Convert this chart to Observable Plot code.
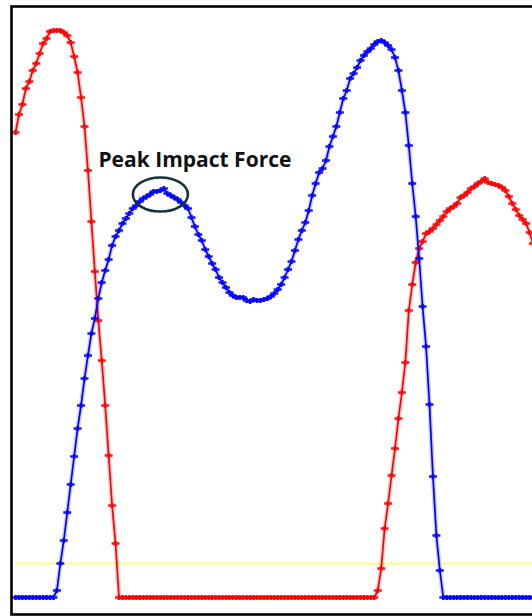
<!DOCTYPE html>
<html>
<head>
<meta charset="utf-8">
<script src="https://cdn.jsdelivr.net/npm/d3@7"></script>
<script src="https://cdn.jsdelivr.net/npm/@observablehq/plot@0.6"></script>
<style>
  html, body { margin: 0; padding: 0; background: #fff; }
  #chart svg { display: block; }
</style>
</head>
<body>
<div id="chart"></div>
<script>
// Sampling interval (ms) between successive force samples
const sampleMs = 5;

// Red force trace (arbitrary force units), one value per sample
const redForce = [
  465, 483, 493, 509, 516, 527, 534, 544, 554, 559,
  566, 567, 567, 567, 565, 562, 555, 541, 525, 500,
  471, 427, 376, 326, 277, 237, 192, 142, 92, 54,
  0, 0, 0, 0, 0, 0, 0, 0, 0, 0,
  0, 0, 0, 0, 0, 0, 0, 0, 0, 0,
  0, 0, 0, 0, 0, 0, 0, 0, 0, 0,
  0, 0, 0, 0, 0, 0, 0, 0, 0, 0,
  0, 0, 0, 0, 0, 0, 0, 0, 0, 0,
  0, 0, 0, 0, 0, 0, 0, 0, 0, 0,
  0, 0, 0, 0, 0, 0, 0, 0, 0, 0,
  0, 0, 0, 0, 0, 7, 29, 69, 94, 122,
  149, 179, 205, 235, 287, 313, 335, 349, 356, 364,
  366, 369, 373, 377, 381, 386, 389, 391, 394, 400,
  402, 405, 409, 411, 414, 416, 419, 415, 414, 413,
  412, 410, 407, 401, 394, 388, 382, 378, 374, 365,
  354
];

// Blue force trace (arbitrary force units), one value per sample
const blueForce = [
  0, 0, 0, 0, 0, 0, 0, 0, 0, 0,
  0, 0, 7, 34, 57, 85, 113, 141, 169, 192,
  219, 242, 264, 279, 299, 315, 327, 338, 352, 361,
  367, 374, 379, 384, 389, 392, 396, 399, 401, 403,
  406, 406, 407, 409, 404, 402, 400, 398, 395, 392,
  389, 380, 371, 363, 357, 348, 341, 334, 328, 320,
  315, 310, 305, 302, 300, 300, 300, 297, 296, 298,
  297, 297, 298, 299, 301, 304, 308, 313, 320, 328,
  336, 347, 358, 367, 375, 387, 402, 414, 425, 429,
  437, 451, 461, 471, 485, 499, 507, 519, 524, 530,
  537, 542, 546, 549, 553, 556, 557, 555, 552, 548,
  540, 527, 507, 485, 452, 414, 381, 339, 291, 251,
  193, 121, 62, 27, 0, 0, 0, 0, 0, 0,
  0, 0, 0, 0, 0, 0, 0, 0, 0, 0,
  0, 0, 0, 0, 0, 0, 0, 0, 0, 0,
  0
];

// Threshold level (yellow line)
const thresholdLevel = [34];

// Annotation
const annotationText = ["Peak Impact Force"];
const annotationAt = [{t: 52 * sampleMs, f: 437}];
const peakAt = [{t: 42 * sampleMs, f: 403}];

const red = redForce.map((f, i) => ({t: i * sampleMs, f}));
const blue = blueForce.map((f, i) => ({t: i * sampleMs, f}));

// "+"-like marker: wide horizontal dash with a short vertical tick
const plusMark = {
  draw(ctx) {
    ctx.moveTo(-4, 0); ctx.lineTo(4, 0);
    ctx.moveTo(0, -2.5); ctx.lineTo(0, 2.5);
  }
};
// Ellipse marker for the annotation ring
const ringMark = {
  draw(ctx) {
    const rx = 27.5, ry = 17, k = 0.5523;
    ctx.moveTo(rx, 0);
    ctx.bezierCurveTo(rx, ry * k, rx * k, ry, 0, ry);
    ctx.bezierCurveTo(-rx * k, ry, -rx, ry * k, -rx, 0);
    ctx.bezierCurveTo(-rx, -ry * k, -rx * k, -ry, 0, -ry);
    ctx.bezierCurveTo(rx * k, -ry, rx, -ry * k, rx, 0);
    ctx.closePath();
  }
};

const tMax = (redForce.length - 1) * sampleMs;

const chart = Plot.plot({
  width: 532,
  height: 616,
  marginTop: 0, marginRight: 0, marginBottom: 0, marginLeft: 0,
  x: {domain: [0, tMax], range: [15, 532.5], axis: null},
  y: {domain: [0, 597], range: [597, 0], axis: null},
  marks: [
    Plot.ruleY(thresholdLevel, {x1: 0, x2: tMax, stroke: "#ffff80", strokeWidth: 2}),
    Plot.line(red, {x: "t", y: "f", stroke: "#ff0000", strokeWidth: 4.5, strokeOpacity: 0.2}),
    Plot.line(red, {x: "t", y: "f", stroke: "#ff0000", strokeWidth: 1.7}),
    Plot.dot(red, {x: "t", y: "f", symbol: plusMark, stroke: "#ff0000", strokeWidth: 2.6, strokeOpacity: 0.9}),
    Plot.line(blue, {x: "t", y: "f", stroke: "#0000ff", strokeWidth: 4.5, strokeOpacity: 0.2}),
    Plot.line(blue, {x: "t", y: "f", stroke: "#0000ff", strokeWidth: 1.7}),
    Plot.dot(blue, {x: "t", y: "f", symbol: plusMark, stroke: "#0000ff", strokeWidth: 2.6, strokeOpacity: 0.9}),
    Plot.dot(peakAt, {x: "t", y: "f", symbol: ringMark, stroke: "#17343a", strokeWidth: 2.6, fill: "none"}),
    Plot.text(annotationAt, {x: "t", y: "f", text: () => annotationText[0],
      fontSize: 21, fontWeight: 700, fill: "#111", fontFamily: "'Open Sans', sans-serif"}),
    Plot.frame({stroke: "#000", strokeWidth: 2.6, insetLeft: 11, insetTop: 6, insetBottom: 2, insetRight: -6})
  ]
});
document.getElementById("chart").appendChild(chart);
</script>
</body>
</html>
